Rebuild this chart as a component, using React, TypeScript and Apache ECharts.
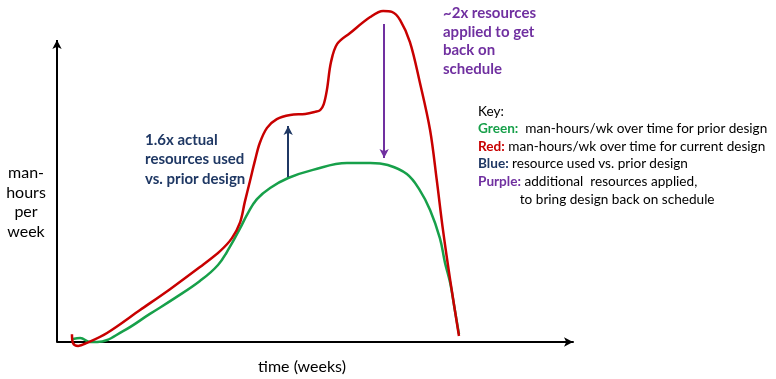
import React, { useEffect, useRef } from "react";
import * as echarts from "echarts";

// time in weeks (0-100 scale), man-hours per week (0-100 scale)
const redWeeks = [2.9, 3.1, 4.1, 5.8, 9.7, 16.1, 21.9, 27.7, 31.6, 33.9, 35.5, 36.4, 37.4, 38.4, 39.3, 40.7, 42.6, 45.2, 48.1, 50.0, 51.0, 51.7, 52.3, 53.1, 54.3, 56.8, 60.7, 63.2, 64.9, 66.5, 68.4, 70.3, 72.3, 73.6, 74.8, 76.2, 77.9];
const redHours = [2.6, -0.3, -1.3, -0.3, 3.0, 10.6, 17.5, 24.8, 30.1, 34.4, 39.7, 46.4, 53.3, 60.3, 65.9, 70.9, 73.8, 75.2, 75.5, 76.2, 76.8, 78.8, 83.4, 92.7, 98.7, 102.3, 107.6, 109.6, 109.3, 106.6, 99.3, 86.1, 70.2, 53.6, 37.1, 20.5, 2.0];

const greenWeeks = [3.1, 4.5, 6.4, 7.8, 12.8, 18.0, 22.9, 27.7, 31.2, 33.5, 35.5, 37.0, 38.8, 41.3, 44.8, 49.6, 56.2, 60.7, 64.1, 67.8, 70.3, 72.3, 74.2, 75.2, 76.2, 77.1, 77.9];
const greenHours = [1.0, 1.3, 0.0, 0.0, 3.6, 9.3, 14.6, 20.2, 25.5, 31.5, 37.7, 42.7, 47.4, 51.0, 54.3, 57.0, 59.3, 59.3, 58.6, 55.6, 50.3, 43.7, 34.4, 26.2, 19.5, 10.6, 2.6];

// annotation arrows: [week, fromHours, toHours]
const blueArrow = [44.8, 54.6, 71.5];
const purpleArrow = [63.4, 105.3, 60.9];
// vertical axis arrow: [week, fromHours, toHours]
const yAxisArrow = [0, 0, 100];

const yAxisTitle = "man-\nhours\nper\nweek";
const xAxisTitle = "time (weeks)";
const blueNote = "1.6x actual\nresources used\nvs. prior design";
const purpleNote = "~2x resources\napplied to get\nback on\nschedule";
const keyLines = [
  { label: "", text: "Key:" },
  { label: "Green:", text: "  man-hours/wk over time for prior design" },
  { label: "Red:", text: " man-hours/wk over time for current design" },
  { label: "Blue:", text: " resource used vs. prior design" },
  { label: "Purple:", text: " additional  resources applied," },
  { label: "", text: "            to bring design back on schedule" },
];

const RED = "#c80000";
const GREEN = "#17a04a";
const NAVY = "#1f3864";
const PURPLE = "#7030a0";
const FONT = "Lato, 'Open Sans', sans-serif";

export default function App() {
  const ref = useRef<HTMLDivElement>(null);
  useEffect(() => {
    if (!ref.current) return;
    const chart = echarts.init(ref.current, undefined, { renderer: "svg" });
    const keyColors: Record<string, string> = { "Green:": GREEN, "Red:": RED, "Blue:": NAVY, "Purple:": PURPLE };
    const keyTops = [104, 121, 139, 156, 174, 192];
    const arrowLine = (a: number[], color: string) => [
      { coord: [a[0], a[1]], lineStyle: { color, width: 2, type: "solid" } },
      { coord: [a[0], a[2]] },
    ];
    chart.setOption({
      animation: false,
      grid: { left: 57, right: 203, top: 9.8, bottom: 37 },
      xAxis: {
        type: "value",
        min: 0,
        max: 100,
        axisLine: { show: true, symbol: ["none", "arrow"], symbolSize: [7, 9], lineStyle: { color: "#000", width: 2 } },
        axisTick: { show: false },
        axisLabel: { show: false },
        splitLine: { show: false },
      },
      yAxis: {
        type: "value",
        min: 0,
        max: 110,
        axisLine: { show: false },
        axisTick: { show: false },
        axisLabel: { show: false },
        splitLine: { show: false },
      },
      series: [
        {
          type: "line",
          data: greenWeeks.map((w, i) => [w, greenHours[i]]),
          smooth: 0.4,
          clip: false,
          showSymbol: false,
          lineStyle: { color: GREEN, width: 2.5 },
          z: 3,
          markLine: {
            silent: true,
            symbol: ["none", "arrow"],
            symbolSize: [7, 9],
            label: { show: false },
            data: [arrowLine(yAxisArrow, "#000"), arrowLine(blueArrow, NAVY), arrowLine(purpleArrow, PURPLE)],
          },
        },
        {
          type: "line",
          data: redWeeks.map((w, i) => [w, redHours[i]]),
          smooth: 0.35,
          clip: false,
          showSymbol: false,
          lineStyle: { color: RED, width: 2.5 },
          z: 4,
        },
      ],
      graphic: [
        {
          type: "text",
          x: 26,
          y: 162,
          style: { text: yAxisTitle, font: `16px ${FONT}`, fill: "#000", align: "center", verticalAlign: "top", lineHeight: 19.5 },
        },
        {
          type: "text",
          x: 302,
          y: 357,
          style: { text: xAxisTitle, font: `16px ${FONT}`, fill: "#000", align: "center", verticalAlign: "top" },
        },
        {
          type: "text",
          x: 145,
          y: 129,
          style: { text: blueNote, font: `bold 15px ${FONT}`, fill: NAVY, align: "left", verticalAlign: "top", lineHeight: 19.5 },
        },
        {
          type: "text",
          x: 443,
          y: 3,
          style: { text: purpleNote, font: `bold 15px ${FONT}`, fill: PURPLE, align: "left", verticalAlign: "top", lineHeight: 18.5 },
        },
        ...keyLines.map((k, i) => ({
          type: "text",
          x: 478,
          y: keyTops[i],
          style: {
            text: (k.label ? `{b|${k.label}}` : "") + k.text,
            font: `13.6px ${FONT}`,
            fill: "#000",
            align: "left",
            verticalAlign: "top",
            rich: k.label ? { b: { font: `bold 13.6px ${FONT}`, fill: keyColors[k.label] } } : undefined,
          },
        })),
      ],
    });
    return () => chart.dispose();
  }, []);
  return <div ref={ref} style={{ position: "fixed", left: 0, top: 0, width: 776, height: 379 }} />;
}
